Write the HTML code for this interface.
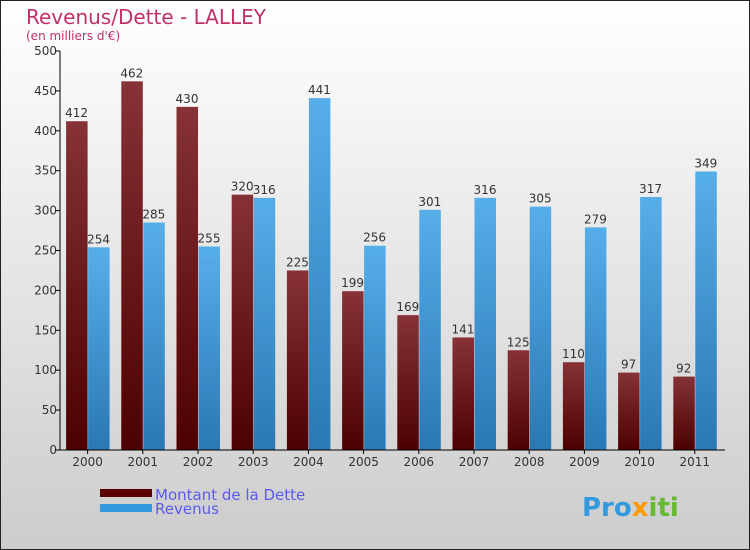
<!DOCTYPE html>
<html><head><meta charset="utf-8"><style>
body{margin:0}
#c{width:750px;height:550px;position:relative;overflow:hidden}
text{font-family:"DejaVu Sans","Liberation Sans",sans-serif}
</style></head><body>
<div id="c">
<svg id="s" width="750" height="550" xmlns="http://www.w3.org/2000/svg">
<defs>
<linearGradient id="bg" x1="0" y1="0" x2="0" y2="1"><stop offset="0" stop-color="#ffffff"/><stop offset="1" stop-color="#cccccc"/></linearGradient>
<linearGradient id="gd" x1="0" y1="0" x2="0" y2="1"><stop offset="0" stop-color="#863236"/><stop offset="1" stop-color="#4e0000"/></linearGradient>
<linearGradient id="gr" x1="0" y1="0" x2="0" y2="1"><stop offset="0" stop-color="#56aee8"/><stop offset="1" stop-color="#2a78b4"/></linearGradient>
</defs>
<rect x="0.5" y="0.5" width="749" height="549" fill="url(#bg)" stroke="#222"/>
<text x="26" y="24" font-size="20" fill="#c0306a">Revenus/Dette - LALLEY</text>
<text x="26" y="40" font-size="12" fill="#c0306a">(en milliers d'€)</text>
<g id="plot"></g>
<rect x="100" y="489" width="52" height="8" fill="#5a0000"/>
<rect x="100" y="504" width="52" height="8" fill="#3399dd"/>
<text x="155" y="500" font-size="15" fill="#5a5aee">Montant de la Dette</text>
<text x="155" y="514" font-size="15" fill="#5a5aee">Revenus</text>
<text x="582" y="516" font-size="26" font-weight="bold" fill="#3399dd">Pro<tspan fill="#ff9900">x</tspan><tspan fill="#66bb33">iti</tspan></text>
</svg></div>
<script>
const years=["2000","2001","2002","2003","2004","2005","2006","2007","2008","2009","2010","2011"];
const dette=[412,462,430,320,225,199,169,141,125,110,97,92];
const revenus=[254,285,255,316,441,256,301,316,305,279,317,349];
const yTicks=[0,50,100,150,200,250,300,350,400,450,500];
const NS="http://www.w3.org/2000/svg";
const g=document.getElementById('plot');
const x0=60,gw=55.2,y0=450,yTop=51,vmax=500;
const y=v=>y0-(v/vmax)*(y0-yTop);
function mk(t,a,txt){const e=document.createElementNS(NS,t);for(const k in a)e.setAttribute(k,a[k]);if(txt!==undefined)e.textContent=txt;g.appendChild(e);return e;}
yTicks.forEach(v=>{
 let l=mk('line',{x1:x0-5,x2:x0,y1:y(v),y2:y(v),stroke:'#000'});
 
 
 let t=mk('text',{x:x0-3,y:y(v)+4,'font-size':12,fill:'#333','text-anchor':'end'},String(v));
 
 
});
years.forEach((yr,i)=>{
 const cx=x0+gw*i+gw/2;
 let b1=mk('rect',{x:cx-21.5,y:y(dette[i]),width:21.5,height:y0-y(dette[i]),fill:'url(#gd)'});
 
 
 let b2=mk('rect',{x:cx+0.5,y:y(revenus[i]),width:21.5,height:y0-y(revenus[i]),fill:'url(#gr)'});
 
 
 let t1=mk('text',{x:cx-11,y:y(dette[i])-4,'font-size':12,fill:'#333','text-anchor':'middle'},String(dette[i]));
 
 
 let t2=mk('text',{x:cx+11,y:y(revenus[i])-4,'font-size':12,fill:'#333','text-anchor':'middle'},String(revenus[i]));
 
 
 let tl=mk('line',{x1:cx,x2:cx,y1:y0,y2:y0+4,stroke:'#000'});
 
 
 let xl=mk('text',{x:cx,y:y0+16,'font-size':12,fill:'#333','text-anchor':'middle'},yr);
 
 
});
let ya=mk('line',{x1:x0,x2:x0,y1:yTop,y2:y0,stroke:'#000'});


let xa=mk('line',{x1:x0-5,x2:725,y1:y0,y2:y0,stroke:'#000'});


</script>
</body></html>
